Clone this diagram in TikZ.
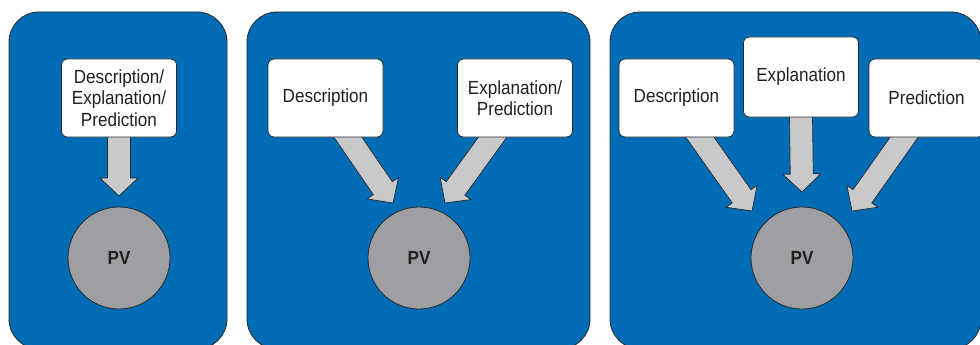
\documentclass[tikz,border=0pt]{standalone}
\usepackage{fontspec}
\setmainfont[FakeStretch=0.9]{Liberation Sans}
\usetikzlibrary{calc,backgrounds}
\definecolor{panelblue}{RGB}{0,108,182}
\definecolor{arrowgray}{RGB}{200,201,203}
\definecolor{pvgray}{RGB}{158,159,162}
\definecolor{textgray}{RGB}{35,31,32}
\definecolor{edgegray}{RGB}{40,40,40}
\newcommand\fatarrow[2]{%
  \coordinate (#1-b) at ($(#1)!-10pt!(#2)$);
  \coordinate (#1-n) at ($(#2)!18pt!(#1)$);
  \draw[fat] ($(#1-b)!11.5pt!90:(#2)$) -- ($(#1-n)!11.5pt!90:(#2)$)
    -- ($(#1-n)!19pt!90:(#2)$) -- (#2) -- ($(#1-n)!19pt!-90:(#2)$)
    -- ($(#1-n)!11.5pt!-90:(#2)$) -- ($(#1-b)!11.5pt!-90:(#2)$) -- cycle;}
\begin{document}
\begin{tikzpicture}[x=1pt,y=-1pt,
  panel/.style={fill=panelblue,draw=edgegray,line width=0.8pt,rounded corners=30pt},
  box/.style={draw=edgegray,fill=white,rounded corners=6pt,minimum width=115pt,
    minimum height=78pt,inner sep=0pt,align=center,
    font=\fontsize{19}{21.5}\selectfont,text=textgray,line width=0.8pt},
  pv/.style={circle,draw=edgegray,fill=pvgray,minimum size=102pt,inner sep=0pt,
    font=\fontsize{19}{21.5}\selectfont\bfseries,text=textgray,line width=0.8pt},
  fat/.style={fill=arrowgray,draw=edgegray,line width=0.7pt,line join=miter}]
\useasboundingbox (0,0) rectangle (980,345);
\begin{scope}[on background layer]
  \draw[panel] (9,12) rectangle (227,349);
  \draw[panel] (247,12) rectangle (590,349);
  \draw[panel] (610,12) rectangle (981,349);
\end{scope}
% panel 1
\node[box] (b1) at (119,98) {Description/\\Explanation/\\Prediction};
\node[pv] (pv1) at (119,258) {PV};
% panel 2
\node[box] (d2) at (325.5,98) {Description};
\node[box] (ep2) at (515,98) {Explanation/\\Prediction};
\node[pv] (pv2) at (419,258) {PV};
% panel 3
\node[box] (d3) at (676.5,98) {Description};
\node[box,minimum height=80pt] (e3) at (801,77) {Explanation};
\node[box] (p3) at (926.5,98) {Prediction};
\node[pv] (pv3) at (802,258) {PV};
% arrow ends
\coordinate (a1s) at (b1.south);
\coordinate (a1t) at ($(pv1.center)+(0,-62)$);
\coordinate (a2s) at ($(d2.south)+(22.5,0)$);
\coordinate (a2t) at ($(pv2.center)+(-26,-55)$);
\coordinate (a3s) at ($(ep2.south)+(-22.5,0)$);
\coordinate (a3t) at ($(pv2.center)+(26,-55)$);
\coordinate (a4s) at ($(d3.south)+(23.5,0)$);
\coordinate (a4t) at ($(pv3.center)+(-50,-47)$);
\coordinate (a5s) at (e3.south);
\coordinate (a5t) at ($(pv3.center)+(0,-66)$);
\coordinate (a6s) at ($(p3.south)+(-22.5,0)$);
\coordinate (a6t) at ($(pv3.center)+(50,-47)$);
\begin{scope}[on background layer]
  \fatarrow{a1s}{a1t}
  \fatarrow{a2s}{a2t}
  \fatarrow{a3s}{a3t}
  \fatarrow{a4s}{a4t}
  \fatarrow{a5s}{a5t}
  \fatarrow{a6s}{a6t}
\end{scope}
\end{tikzpicture}
\end{document}
